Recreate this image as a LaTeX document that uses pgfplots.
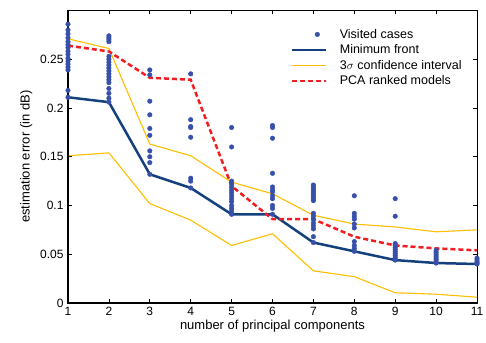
\documentclass[border=0pt]{standalone}
\usepackage{pgfplots}
\pgfplotsset{compat=1.18}
\usepackage{fontspec}
\setmainfont{Liberation Sans}
\definecolor{dotblue}{RGB}{55,80,170}
\definecolor{frontblue}{RGB}{20,65,125}
\definecolor{ciyellow}{RGB}{255,190,0}
\definecolor{pcared}{RGB}{240,30,35}
\pgfplotsset{linelegend/.style={legend image code/.code={\path[draw=none] (0pt,0pt) -- (46pt,0pt); \draw[##1] (0pt,0pt) -- (34pt,0pt);}}}
\begin{document}
\begin{tikzpicture}
\useasboundingbox (-68pt,-39pt) rectangle (418pt,303pt);
\begin{axis}[
  scale only axis, width=409pt, height=292.5pt,
  xmin=1, xmax=11, ymin=0, ymax=0.3,
  xtick={1,...,11}, ytick={0,0.05,0.1,0.15,0.2,0.25},
  yticklabels={0,0.05,0.1,0.15,0.2,0.25},
  tick align=inside, major tick length=4pt,
  tick style={black, line width=0.8pt},
  axis line style={line width=0.8pt},
  tick label style={font=\fontsize{12}{14}\selectfont},
  label style={font=\fontsize{13}{15}\selectfont},
  /pgf/number format/assume math mode=true,
  xticklabel style={yshift=-1pt},
  yticklabel style={xshift=-1pt},
  xlabel={number of principal components},
  ylabel={estimation error (in dB)},
  xlabel style={yshift=3pt},
  ylabel style={yshift=1pt},
  legend style={at={(rel axis cs:0.545,0.942)}, anchor=north west, draw=none, fill=none,
     font=\fontsize{12.5}{14}\selectfont, row sep=1.9pt, inner sep=0pt,
     nodes={inner sep=1.5pt}, cells={anchor=west}},
  legend cell align=left,
  clip=false,
]
\addplot[only marks, mark=*, mark size=2.3pt, color=dotblue,
  legend image code/.code={\path[draw=none] (0pt,0pt) -- (46pt,0pt); \path[draw=none] plot[mark=*, mark size=2.3pt, mark options={draw=dotblue, fill=dotblue}] coordinates {(25pt,0pt)};}] table {
x y
1 0.286
1 0.280
1 0.276
1 0.272
1 0.268
1 0.265
1 0.262
1 0.258
1 0.255
1 0.251
1 0.248
1 0.245
1 0.242
1 0.239
1 0.218
1 0.211
2 0.274
2 0.272
2 0.270
2 0.268
2 0.253
2 0.250
2 0.247
2 0.244
2 0.241
2 0.238
2 0.235
2 0.232
2 0.229
2 0.226
2 0.220
2 0.215
2 0.210
2 0.206
3 0.239
3 0.234
3 0.207
3 0.193
3 0.179
3 0.172
3 0.156
3 0.150
3 0.144
3 0.132
4 0.235
4 0.188
4 0.181
4 0.180
4 0.170
4 0.128
4 0.125
4 0.118
5 0.180
5 0.160
5 0.125
5 0.122
5 0.119
5 0.116
5 0.113
5 0.110
5 0.107
5 0.104
5 0.100
5 0.097
5 0.094
5 0.091
6 0.182
6 0.180
6 0.169
6 0.133
6 0.119
6 0.116
6 0.114
6 0.110
6 0.107
6 0.100
6 0.097
6 0.091
7 0.121
7 0.119
7 0.117
7 0.115
7 0.113
7 0.111
7 0.109
7 0.107
7 0.105
7 0.092
7 0.089
7 0.086
7 0.082
7 0.079
7 0.076
7 0.068
7 0.062
8 0.110
8 0.092
8 0.089
8 0.086
8 0.081
8 0.077
8 0.063
8 0.059
8 0.056
8 0.053
9 0.107
9 0.089
9 0.061
9 0.059
9 0.057
9 0.055
9 0.053
9 0.051
9 0.049
9 0.047
9 0.045
9 0.044
10 0.054
10 0.052
10 0.050
10 0.048
10 0.046
10 0.044
10 0.042
10 0.041
11 0.046
11 0.044
11 0.042
11 0.041
11 0.040
};
\addlegendentry{Visited cases}
\addplot[color=frontblue, line width=2.5pt, mark=none, linelegend] table {
x y
1 0.211
2 0.206
3 0.132
4 0.118
5 0.091
6 0.091
7 0.062
8 0.053
9 0.044
10 0.041
11 0.040
};
\addlegendentry{Minimum front}
\addplot[color=ciyellow, line width=1.1pt, mark=none, linelegend] table {
x y
1 0.271
2 0.261
3 0.163
4 0.151
5 0.124
6 0.112
7 0.090
8 0.081
9 0.078
10 0.073
11 0.075
};
\addlegendentry{3$\sigma$ confidence interval}
\addplot[color=ciyellow, line width=1.1pt, mark=none, forget plot] table {
x y
1 0.151
2 0.154
3 0.102
4 0.085
5 0.059
6 0.071
7 0.033
8 0.027
9 0.0105
10 0.009
11 0.006
};
\addplot[color=pcared, line width=2.5pt, dash pattern=on 5pt off 3pt, mark=none, linelegend] table {
x y
1 0.264
2 0.258
3 0.231
4 0.229
5 0.120
6 0.086
7 0.086
8 0.068
9 0.059
10 0.056
11 0.054
};
\addlegendentry{PCA ranked models}
\draw[line width=1.6pt, black] (rel axis cs:0,1) -- (rel axis cs:0,0) -- (rel axis cs:1,0);
\end{axis}
\end{tikzpicture}
\end{document}
